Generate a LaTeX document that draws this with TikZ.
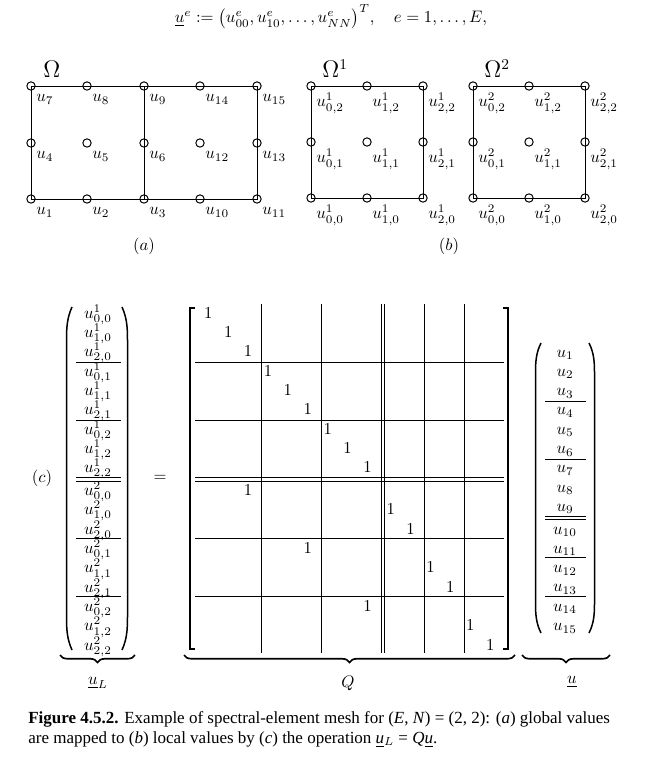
\documentclass[tikz,border=0pt]{standalone}
\usepackage{amsmath}
\usepackage{amssymb}
\usepackage{xcolor}
\usepackage{fontspec}
\usepackage{tikz}
\usetikzlibrary{decorations.pathreplacing}
\newfontfamily\capfont{Liberation Serif}

\begin{document}
\begin{tikzpicture}[x=0.6pt, y=-0.6pt,
        vertex/.style={circle, draw, line width=0.6pt, minimum size=5pt, inner sep=0pt},
        lab/.style={anchor=base west, inner sep=0pt},
        mesh/.style={line width=0.5pt},
        gridline/.style={line width=0.45pt},
        paren/.style={line width=0.9pt},
        ubrace/.style={decorate, decoration={brace, mirror, amplitude=4.5pt}, line width=1pt}]
    \useasboundingbox (0,0) rectangle (663,763);

    \node[anchor=base, inner sep=0pt] (title) at (331,23) {$\underline{u}^e := \bigl(u^e_{00}, u^e_{10}, \ldots, u^e_{NN}\bigr)^T, \quad e = 1, \ldots, E,$};

    % (a) global numbering
    \foreach \x/\y/\k in {31/199/1, 87/199/2, 144/199/3, 200/199/10, 257/199/11,
                          31/143/4, 87/143/5, 144/143/6, 200/143/12, 257/143/13,
                          31/86/7, 87/86/8, 144/86/9, 200/86/14, 257/86/15}
    {
        \node[vertex] (g\k) at (\x,\y) {};
        \node[lab] (gl\k) at (\x+5,\y+16) {$u_{\k}$};
    }
    \draw[mesh] (g7.center) -- (g15.center) -- (g11.center) -- (g1.center) -- cycle;
    \draw[mesh] (g9.center) -- (g3.center);
    \node[lab] (om) at (43,78) {\fontsize{13.5}{15}\selectfont$\Omega$};
    \node (capa) at (144,246) {$(a)$};

    % (b) local numbering, one square per element
    \foreach \e/\xo in {1/311, 2/473}
    {
        \foreach \i in {0,1,2}
            \foreach \j in {0,1,2}
            {
                \node[vertex] (l\e\i\j) at (\xo+56*\i, 198-56*\j) {};
                \node[lab] (ll\e\i\j) at (\xo+56*\i+5, 198-56*\j+21) {$u^{\e}_{\i,\j}$};
            }
        \draw[mesh] (l\e02.center) -- (l\e22.center) -- (l\e20.center) -- (l\e00.center) -- cycle;
        \node[lab] (om\e) at (\xo+11,78) {\fontsize{13.5}{15}\selectfont$\Omega^{\e}$};
    }
    \node (capb) at (449,246) {$(b)$};

    % (c) u_L = Q u
    \node (capc) at (42,478) {$(c)$};
    \node (eq) at (160,478) {$=$};

    % local vector
    \foreach \e in {1,2}
        \foreach \j in {0,1,2}
            \foreach \i in {0,1,2}
            {
                \pgfmathtruncatemacro{\r}{(\e-1)*9+\j*3+\i+1}
                \pgfmathsetmacro{\rowy}{304.3+\r*19.35-5.6+(\r>9)*3.3}
                \node[anchor=base, inner sep=0pt] (ul\r) at (98,\rowy) {$u^{\e}_{\i,\j}$};
            }
    \foreach \y in {362.3, 420.3, 477.7, 481, 538.3, 596.3}
        \draw[gridline] (76,\y) -- (121,\y);
    \draw[paren] (72,307) .. controls (67,318) and (66.5,328) .. (66.5,340) -- (66.5,617) .. controls (66.5,629) and (67,639) .. (72,650);
    \draw[paren] (122,307) .. controls (127,318) and (127.5,328) .. (127.5,340) -- (127.5,617) .. controls (127.5,629) and (127,639) .. (122,650);

    % matrix Q
    \foreach \i/\j in {1/1,2/2,3/3,4/4,5/5,6/6,7/7,8/8,9/9,10/3,11/10,12/11,13/6,14/12,15/13,16/9,17/14,18/15}
    {
        \pgfmathsetmacro{\rowy}{304.3+\i*19.35-5.6+(\i>9)*3.3}
        \pgfmathsetmacro{\colx}{202+(\j-1)*19.9+6.3+(\j>9)*3.3}
        \node[anchor=base, inner sep=0pt] (q\i) at (\colx,\rowy) {$1$};
    }
    \foreach \x in {261.7, 321.4, 381.1, 384.4, 424.2, 464}
        \draw[gridline] (\x,304) -- (\x,653);
    \foreach \y in {362.3, 420.3, 477.7, 481, 538.3, 596.3}
        \draw[gridline] (195,\y) -- (504,\y);
    \draw[line width=0.8pt] (195,308) -- (190,308) -- (190,649) -- (195,649);
    \draw[line width=0.8pt] (503,308) -- (508,308) -- (508,649) -- (503,649);

    % global vector
    \foreach \k in {1,...,15}
    {
        \pgfmathsetmacro{\rowy}{357+(\k-1)*19.3+(\k>9)*3.3}
        \node[anchor=base, inner sep=0pt] (u\k) at (565,\rowy) {$u_{\k}$};
    }
    \foreach \y in {401, 459, 516, 519.3, 557.5, 596}
        \draw[gridline] (545,\y) -- (586,\y);
    \draw[paren] (541,343) .. controls (536,353) and (535.5,362) .. (535.5,373) -- (535.5,603) .. controls (535.5,614) and (536,623) .. (541,633);
    \draw[paren] (589,343) .. controls (594,353) and (594.5,362) .. (594.5,373) -- (594.5,603) .. controls (594.5,614) and (594,623) .. (589,633);

    % braces
    \coordinate (bl1) at (60,655);  \coordinate (bl2) at (135,655);
    \coordinate (bq1) at (184,655); \coordinate (bq2) at (515,655);
    \coordinate (bu1) at (522,655); \coordinate (bu2) at (610,655);
    \draw[ubrace] (bl1) -- (bl2);
    \draw[ubrace] (bq1) -- (bq2);
    \draw[ubrace] (bu1) -- (bu2);
    \node (nl) at (98,683) {$\underline{u}_L$};
    \node (nq) at (348,683) {$Q$};
    \node (nu) at (572,682) {$\underline{u}$};

    \node[anchor=north west, align=left, inner sep=0pt, font=\capfont\fontsize{10.2}{12}\selectfont] (caption) at (28,711)
        {\textbf{Figure 4.5.2.} Example of spectral-element mesh for (\textit{E}, \textit{N}) = (2, 2): (\textit{a}) global values\\
         are mapped to (\textit{b}) local values by (\textit{c}) the operation \underline{\textit{u}}$_{L}$ = \textit{Q}\underline{\textit{u}}.};
\end{tikzpicture}
\end{document}
